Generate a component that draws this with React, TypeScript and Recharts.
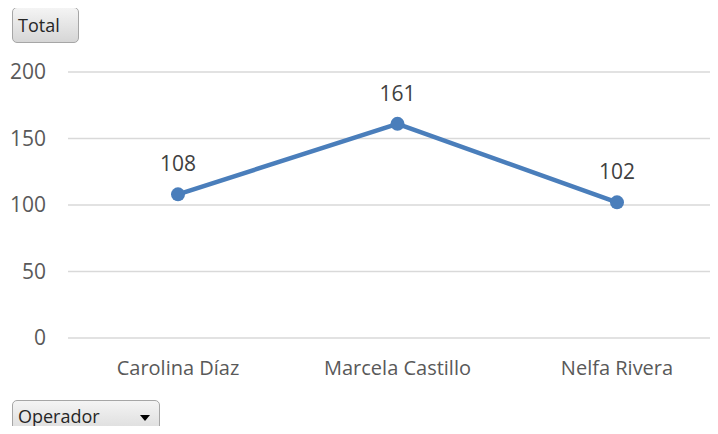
import { CartesianGrid, LabelList, Line, LineChart, XAxis, YAxis } from "recharts";

const operadores = ["Carolina Díaz", "Marcela Castillo", "Nelfa Rivera"];
const totales = [108, 161, 102];
const yTicks = [0, 50, 100, 150, 200];

const data = operadores.map((name, i) => ({ name, total: totales[i] }));

const font = "'Open Sans', sans-serif";
const gray = "#595959";
const blue = "#4a7ebb";

const buttonStyle: React.CSSProperties = {
  position: "absolute",
  left: 12,
  boxSizing: "border-box",
  border: "1px solid #a6a6a6",
  borderRadius: 5,
  background: "linear-gradient(#f4f4f4, #d6d6d6)",
  fontFamily: font,
  fontSize: 18,
  color: "#262626",
  display: "flex",
  alignItems: "center",
  paddingLeft: 5,
};

export default function App() {
  return (
    <div
      style={{
        position: "relative",
        margin: -8,
        width: 718,
        height: 434,
        overflow: "hidden",
        background: "#fff",
      }}
    >
      <LineChart
        width={727}
        height={434}
        data={data}
        margin={{ top: 72, right: 0, bottom: 66, left: 0 }}
      >
        <CartesianGrid vertical={false} stroke="#d9d9d9" strokeWidth={1.5} />
        <XAxis
          dataKey="name"
          axisLine={false}
          tickLine={false}
          tickSize={0}
          tickMargin={23}
          height={30}
          padding={{ left: 110, right: 110 }}
          tick={{ fill: gray, fontSize: 20, fontFamily: font }}
        />
        <YAxis
          domain={[0, 200]}
          ticks={yTicks}
          axisLine={false}
          tickLine={false}
          tickSize={0}
          tickMargin={22}
          width={68}
          tick={{ fill: gray, fontSize: 21, fontFamily: font }}
        />
        <Line
          dataKey="total"
          stroke={blue}
          strokeWidth={4.5}
          dot={{ r: 7, fill: blue, stroke: blue, strokeWidth: 0 }}
          activeDot={false}
          isAnimationActive={false}
        >
          <LabelList
            dataKey="total"
            position="top"
            offset={23}
            fill="#404040"
            fontSize={21}
            fontFamily={font}
          />
        </Line>
      </LineChart>
      <div style={{ ...buttonStyle, top: 7, width: 67, height: 36 }}>Total</div>
      <div style={{ ...buttonStyle, top: 400, width: 148, height: 40 }}>
        <span style={{ paddingBottom: 8 }}>Operador</span>
        <span
          style={{
            position: "absolute",
            left: 127,
            top: 14,
            width: 0,
            height: 0,
            borderLeft: "5px solid transparent",
            borderRight: "5px solid transparent",
            borderTop: "6px solid #000",
          }}
        />
      </div>
    </div>
  );
}
